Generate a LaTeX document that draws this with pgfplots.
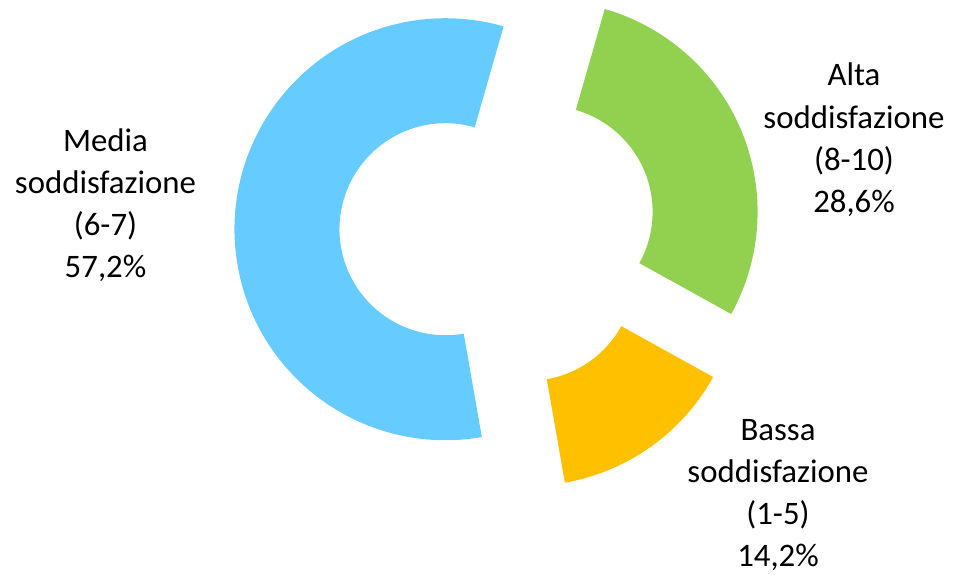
\documentclass[border=0pt]{standalone}
\usepackage{pgfplots}
\pgfplotsset{compat=1.18}
\usepackage{pgfplotstable}
\usepackage{fontspec}
\setmainfont{Carlito}
\definecolor{cAlta}{HTML}{92D050}
\definecolor{cBassa}{HTML}{FFC000}
\definecolor{cMedia}{HTML}{66CCFF}

\pgfplotstableread{
label value
Alta 28.6
Bassa 14.2
Media 57.2
}\datatable

% geometry of the donut (axis units = pt)
\def\CX{498}\def\CY{342}\def\RO{211}\def\RI{106}\def\EX{52.6}\def\ROT{16}

\newcommand\makeslice[4]{% #1 name, #2 colour, #3 start (deg, clockwise from top), #4 end
  \pgfmathsetmacro\ma{90-(#3)}%
  \pgfmathsetmacro\mb{90-(#4)}%
  \pgfmathsetmacro\mm{(\ma+\mb)/2}%
  \pgfmathsetmacro\cx{\CX+\EX*cos(\mm)}%
  \pgfmathsetmacro\cy{\CY+\EX*sin(\mm)}%
  \pgfmathsetmacro\ox{\cx+\RO*cos(\ma)}%
  \pgfmathsetmacro\oy{\cy+\RO*sin(\ma)}%
  \pgfmathsetmacro\ix{\cx+\RI*cos(\mb)}%
  \pgfmathsetmacro\iy{\cy+\RI*sin(\mb)}%
  \expandafter\xdef\csname#1\endcsname{\noexpand\fill[#2] (axis cs:\ox,\oy) arc[start angle=\ma,end angle=\mb,radius=\RO pt] -- (axis cs:\ix,\iy) arc[start angle=\mb,end angle=\ma,radius=\RI pt] -- cycle;}%
}

\pgfplotstablegetelem{0}{value}\of\datatable\let\vA\pgfplotsretval
\pgfplotstablegetelem{1}{value}\of\datatable\let\vB\pgfplotsretval
\pgfplotstablegetelem{2}{value}\of\datatable\let\vC\pgfplotsretval
\pgfmathsetmacro\tA{\ROT}
\pgfmathsetmacro\tB{\tA+3.6*\vA}
\pgfmathsetmacro\tC{\tB+3.6*\vB}
\pgfmathsetmacro\tD{\tC+3.6*\vC}
\makeslice{sliceA}{cAlta}{\tA}{\tB}
\makeslice{sliceB}{cBassa}{\tB}{\tC}
\makeslice{sliceC}{cMedia}{\tC}{\tD}

\newcommand\lbl{\fontsize{32.8}{39}\selectfont}

\begin{document}
\begin{tikzpicture}
\begin{axis}[width=953pt,height=574pt,scale only axis,
  xmin=0,xmax=953,ymin=0,ymax=574,hide axis,clip=false]
\sliceA
\sliceB
\sliceC
\tikzset{lab/.style={anchor=base,font=\lbl,text=black,inner sep=0pt}}
% Media
\node[lab] at (axis cs:105.5,422) {Media};
\node[lab] at (axis cs:105.5,380.3) {soddisfazione};
\node[lab] at (axis cs:105.5,338.6) {(6-7)};
\node[lab] at (axis cs:105.5,297) {57,2\%};
% Alta
\node[lab] at (axis cs:854,488.3) {Alta};
\node[lab] at (axis cs:854,445.9) {soddisfazione};
\node[lab] at (axis cs:854,403.5) {(8-10)};
\node[lab] at (axis cs:854,361) {28,6\%};
% Bassa
\node[lab] at (axis cs:778,133.3) {Bassa};
\node[lab] at (axis cs:778,91.3) {soddisfazione};
\node[lab] at (axis cs:778,49.3) {(1-5)};
\node[lab] at (axis cs:778,7.3) {14,2\%};
\end{axis}
\pgfresetboundingbox
\path[use as bounding box] (0,0) rectangle (953pt,574pt);
\end{tikzpicture}
\end{document}
